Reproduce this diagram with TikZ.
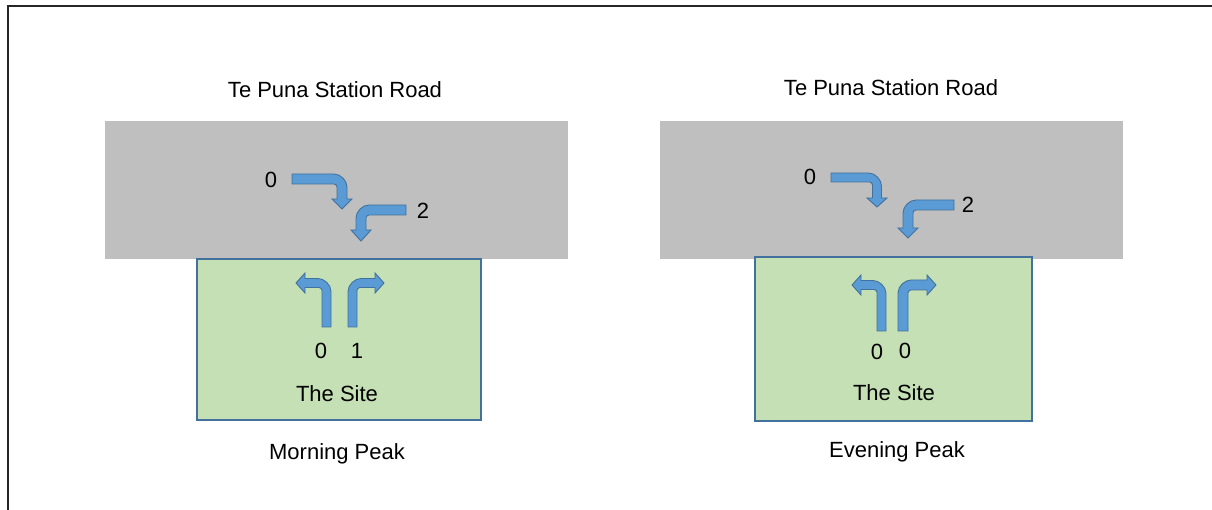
\documentclass[tikz,border=0pt]{standalone}
\usepackage{fontspec}
\setmainfont{Liberation Sans}
\definecolor{roadgray}{HTML}{BFBFBF}
\definecolor{sitegreen}{HTML}{C5E0B4}
\definecolor{siteedge}{HTML}{41719C}
\definecolor{arrfill}{HTML}{5B9BD5}
\definecolor{arredge}{HTML}{41719C}
\newcommand{\bentarr}[4]{% a, b, head length, half width
  \filldraw[arrowshape] (0,#4) -- ({#1+#4-13},#4)
    .. controls ({#1+#4-5.8},#4) and ({#1+#4},{#4-7.2}) .. ({#1+#4},{#4-13})
    -- ({#1+#4},{-#2}) -- ({#1+10},{-#2}) -- (#1,{-#2-#3}) -- ({#1-10},{-#2})
    -- ({#1-#4},{-#2}) -- ({#1-#4},{-#4-3})
    .. controls ({#1-#4},{-#4-1.4}) and ({#1-#4-1.4},{-#4}) .. ({#1-#4-3},{-#4})
    -- (0,{-#4}) -- cycle;}
\tikzset{
  arrowshape/.style={fill=arrfill,draw=arredge,line width=0.9pt},
  road/.style={fill=roadgray,draw=none},
  site/.style={fill=sitegreen,draw=siteedge,line width=1.6pt},
  lbl/.style={font=\fontsize{22}{26}\selectfont,inner sep=0pt,anchor=center},
}
\begin{document}
\begin{tikzpicture}[x=1pt,y=1pt]
\useasboundingbox (0,0) rectangle (1212,510);
% frame
\draw[line width=2pt,black!85] (8,0) -- (8,504) -- (1212,504);
% left panel
\fill[road] (105,251) rectangle (568,389);
\filldraw[site] (197,90) rectangle (481,251);
\node[lbl] (roadL) at (335,420) {Te Puna Station Road};
\node[lbl] (peakL) at (337,56) {Morning Peak};
\node[lbl] (siteL) at (337,116) {The Site};
\node[lbl] (nL1) at (271,330) {0};
\node[lbl] (nL2) at (423,299) {2};
\node[lbl] (nL3) at (321,159) {0};
\node[lbl] (nL4) at (357,159) {1};
\begin{scope}[shift={(292,331)}] \bentarr{50}{20}{10}{5} \end{scope}
\begin{scope}[shift={(406,300)},xscale=-1] \bentarr{45}{20}{11}{5} \end{scope}
\begin{scope}[cm={0,1,1,0,(326.5,183)}] \bentarr{44}{21.5}{9}{4.5} \end{scope}
\begin{scope}[shift={(352.5,183)},rotate=90] \bentarr{44}{22.5}{9}{4.5} \end{scope}
% right panel
\fill[road] (660,251) rectangle (1123,389);
\filldraw[site] (755,89) rectangle (1032,253);
\node[lbl] (roadR) at (891,422) {Te Puna Station Road};
\node[lbl] (peakR) at (897,58) {Evening Peak};
\node[lbl] (siteR) at (894,117) {The Site};
\node[lbl] (nR1) at (810,333) {0};
\node[lbl] (nR2) at (968,305) {2};
\node[lbl] (nR3) at (877,158) {0};
\node[lbl] (nR4) at (905,159) {0};
\begin{scope}[shift={(831,332.5)}] \bentarr{46}{20.5}{9}{4.5} \end{scope}
\begin{scope}[shift={(954,305)},xscale=-1] \bentarr{46}{23}{10}{5} \end{scope}
\begin{scope}[cm={0,1,1,0,(881.5,179)}] \bentarr{46}{20.5}{9}{4.5} \end{scope}
\begin{scope}[shift={(903,179)},rotate=90] \bentarr{46}{24}{9}{5} \end{scope}
\end{tikzpicture}
\end{document}
